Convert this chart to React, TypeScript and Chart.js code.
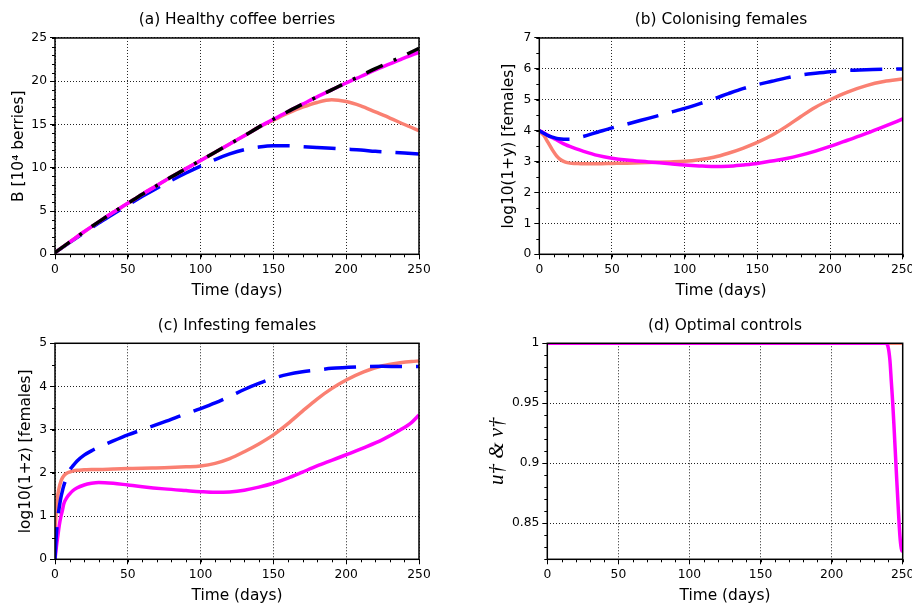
import React, { useEffect, useRef } from 'react';
import { Chart, registerables } from 'chart.js';

Chart.register(...registerables);

const FONT = "'DejaVu Sans', sans-serif";
const BLUE = '#0000ff';
const MAGENTA = '#ff00ff';
const SALMON = '#fa8072';
const BLACK = '#000000';

// ---- shared axis ticks ----
const xTicks = [0, 50, 100, 150, 200, 250];
const xMinorStep = 10;

// ---- (a) Healthy coffee berries ----
const yTicksA = [0, 5, 10, 15, 20, 25];
const daysA = [0, 10, 20, 30, 40, 50, 60, 70, 80, 90, 100, 110, 120, 130, 140, 150, 160, 170, 180, 190, 200, 210, 220, 230, 240, 250];
const blackA = [0.2, 1.4, 2.6, 3.75, 4.85, 5.9, 6.95, 7.95, 8.95, 9.9, 10.85, 11.8, 12.75, 13.7, 14.7, 15.6, 16.5, 17.35, 18.2, 19.0, 19.85, 20.65, 21.45, 22.2, 23.0, 23.8];
const magentaA = [0.2, 1.4, 2.6, 3.75, 4.85, 5.9, 6.95, 7.95, 8.95, 9.9, 10.85, 11.8, 12.75, 13.7, 14.7, 15.6, 16.5, 17.35, 18.2, 19.0, 19.8, 20.55, 21.3, 22.0, 22.7, 23.35];
const salmonA = [0.2, 1.4, 2.6, 3.75, 4.85, 5.9, 6.95, 7.95, 8.95, 9.9, 10.85, 11.8, 12.75, 13.7, 14.7, 15.5, 16.3, 17.0, 17.55, 17.85, 17.65, 17.15, 16.45, 15.75, 15.0, 14.3];
const blueA = [0.2, 1.35, 2.5, 3.6, 4.65, 5.7, 6.7, 7.65, 8.55, 9.4, 10.2, 10.95, 11.6, 12.1, 12.4, 12.55, 12.55, 12.45, 12.35, 12.25, 12.15, 12.05, 11.9, 11.8, 11.7, 11.6];

// ---- (b) Colonising females ----
const yTicksB = [0, 1, 2, 3, 4, 5, 6, 7];
const daysB = [0, 3, 6, 9, 12, 15, 18, 21, 25, 30, 40, 50, 60, 75, 90, 100, 110, 120, 130, 140, 150, 160, 170, 180, 190, 200, 212, 225, 237, 250];
const blueB = [4.0, 3.92, 3.84, 3.79, 3.75, 3.73, 3.72, 3.72, 3.75, 3.81, 3.95, 4.09, 4.21, 4.4, 4.59, 4.72, 4.87, 5.03, 5.2, 5.36, 5.49, 5.6, 5.71, 5.8, 5.86, 5.91, 5.95, 5.97, 5.99, 6.0];
const salmonB = [4.0, 3.85, 3.62, 3.38, 3.18, 3.05, 2.98, 2.95, 2.94, 2.93, 2.93, 2.94, 2.95, 2.97, 2.99, 3.01, 3.06, 3.14, 3.27, 3.43, 3.62, 3.85, 4.14, 4.46, 4.76, 5.0, 5.25, 5.46, 5.59, 5.67];
const magentaB = [4.0, 3.93, 3.85, 3.77, 3.7, 3.62, 3.55, 3.49, 3.42, 3.34, 3.2, 3.11, 3.05, 2.99, 2.93, 2.89, 2.86, 2.84, 2.85, 2.89, 2.94, 3.02, 3.1, 3.21, 3.34, 3.49, 3.69, 3.91, 4.13, 4.38];

// ---- (c) Infesting females ----
const yTicksC = [0, 1, 2, 3, 4, 5];
const daysC = [0, 0.5, 1, 2, 3, 4, 5, 6, 8, 10, 12, 15, 20, 25, 30, 40, 50, 60, 75, 90, 100, 110, 120, 130, 140, 150, 160, 170, 180, 190, 200, 212, 225, 237, 245, 250];
const blueC = [0, 0.35, 0.6, 0.98, 1.22, 1.42, 1.57, 1.7, 1.9, 2.06, 2.15, 2.27, 2.41, 2.51, 2.59, 2.74, 2.88, 3.0, 3.18, 3.37, 3.49, 3.62, 3.77, 3.93, 4.07, 4.19, 4.28, 4.34, 4.38, 4.42, 4.44, 4.46, 4.47, 4.46, 4.46, 4.46];
const salmonC = [0.65, 0.95, 1.2, 1.5, 1.68, 1.8, 1.88, 1.93, 1.99, 2.02, 2.04, 2.06, 2.07, 2.08, 2.08, 2.09, 2.1, 2.11, 2.12, 2.14, 2.16, 2.22, 2.33, 2.49, 2.67, 2.88, 3.14, 3.43, 3.71, 3.95, 4.15, 4.34, 4.48, 4.55, 4.58, 4.59];
const magentaC = [0, 0.15, 0.3, 0.55, 0.8, 0.98, 1.12, 1.28, 1.42, 1.51, 1.58, 1.65, 1.72, 1.76, 1.78, 1.76, 1.72, 1.68, 1.63, 1.59, 1.565, 1.55, 1.56, 1.6, 1.67, 1.76, 1.88, 2.02, 2.16, 2.29, 2.42, 2.58, 2.77, 2.99, 3.17, 3.34];

// ---- (d) Optimal controls ----
const yTicksD = [0.85, 0.9, 0.95, 1];
const daysD = [0, 238, 239.5, 241, 242, 243, 244, 245, 246, 247, 248, 249, 250];
const magentaD = [1, 1, 0.998, 0.986, 0.968, 0.95, 0.928, 0.905, 0.882, 0.86, 0.84, 0.829, 0.826];
const daysDSalmon = [0, 250];
const salmonD = [1, 1];

type Series = { t: number[]; v: number[]; color: string; dash?: number[] };
type PanelSpec = {
  left: number; top: number; w: number; h: number;
  title: string; titleTop: number; titleBottom: number;
  padRight: number; yAxisW: number; xAxisH: number; xTitlePad: number;
  yTitle: string; yTitlePad: number; yTitleFont: any;
  yMin: number; yMax: number; yTicks: number[]; yMinorStep: number;
  series: Series[];
};

function minorValues(min: number, max: number, step: number): number[] {
  const out: number[] = [];
  const k0 = Math.ceil(min / step - 1e-9);
  const k1 = Math.floor(max / step + 1e-9);
  for (let k = k0; k <= k1; k++) out.push(k * step);
  return out;
}

const framePlugin = {
  id: 'frame',
  afterDraw(chart: any, _args: any, opts: any) {
    const { ctx, chartArea, scales } = chart;
    const { left, right, top, bottom } = chartArea;
    ctx.save();
    ctx.strokeStyle = '#000';
    ctx.lineWidth = 1;
    ctx.beginPath();
    for (const v of opts.xMinor || []) {
      const px = Math.round(scales.x.getPixelForValue(v)) + 0.5;
      ctx.moveTo(px, bottom);
      ctx.lineTo(px, bottom + 3);
    }
    for (const v of opts.yMinor || []) {
      const py = Math.round(scales.y.getPixelForValue(v)) + 0.5;
      ctx.moveTo(left - 3, py);
      ctx.lineTo(left, py);
    }
    ctx.stroke();
    ctx.lineWidth = 1.5;
    ctx.strokeRect(left, top, right - left, bottom - top);
    ctx.restore();
  },
};

function makeConfig(p: PanelSpec): any {
  const tickFont = { family: FONT, size: 12.3 };
  const titleFont = { family: FONT, size: 15.4, weight: 'normal' as const };
  const grid = {
    color: '#222',
    lineWidth: 1,
    drawTicks: true,
    tickLength: 5,
    tickColor: '#000',
    tickWidth: 1,
  };
  return {
    type: 'line',
    data: {
      datasets: p.series.map((s) => ({
        data: s.t.map((t, i) => ({ x: t, y: s.v[i] })),
        borderColor: s.color,
        backgroundColor: s.color,
        borderWidth: 3.5,
        borderDash: s.dash || [],
        pointRadius: 0,
        pointHoverRadius: 0,
        fill: false,
        cubicInterpolationMode: 'monotone',
        clip: 0,
      })),
    },
    options: {
      responsive: false,
      maintainAspectRatio: false,
      animation: false,
      devicePixelRatio: 1,
      events: [],
      layout: { padding: { left: 0, right: p.padRight, top: 0, bottom: 0 } },
      plugins: {
        legend: { display: false },
        tooltip: { enabled: false },
        title: {
          display: true,
          text: p.title,
          fullSize: false,
          color: '#000',
          font: titleFont,
          padding: { top: p.titleTop, bottom: p.titleBottom },
        },
        frame: {
          xMinor: minorValues(0, 250, xMinorStep),
          yMinor: minorValues(p.yMin, p.yMax, p.yMinorStep),
        },
      },
      scales: {
        x: {
          type: 'linear',
          min: 0,
          max: 250,
          afterBuildTicks: (s: any) => {
            s.ticks = xTicks.map((v) => ({ value: v }));
          },
          afterFit: (s: any) => {
            s.height = p.xAxisH;
            s.paddingLeft = 0;
            s.paddingRight = 0;
            s.paddingTop = 0;
            s.paddingBottom = 0;
          },
          ticks: {
            color: '#000',
            font: tickFont,
            autoSkip: false,
            maxRotation: 0,
            minRotation: 0,
            padding: 3,
            callback: (v: any) => String(v),
          },
          grid,
          border: { display: false, dash: [1, 2] },
          title: {
            display: true,
            text: 'Time (days)',
            color: '#000',
            font: titleFont,
            padding: { top: 0, bottom: p.xTitlePad },
          },
        },
        y: {
          type: 'linear',
          min: p.yMin,
          max: p.yMax,
          afterBuildTicks: (s: any) => {
            s.ticks = p.yTicks.map((v) => ({ value: v }));
          },
          afterFit: (s: any) => {
            s.width = p.yAxisW;
            s.paddingLeft = 0;
            s.paddingRight = 0;
            s.paddingTop = 0;
            s.paddingBottom = 0;
          },
          ticks: {
            color: '#000',
            font: tickFont,
            autoSkip: false,
            padding: 3,
            callback: (v: any) => String(v),
          },
          grid,
          border: { display: false, dash: [1, 2] },
          title: {
            display: true,
            text: p.yTitle,
            color: '#000',
            font: p.yTitleFont,
            padding: { top: p.yTitlePad, bottom: 0 },
          },
        },
      },
    },
    plugins: [framePlugin],
  };
}

const BLUE_DASH = [32, 14];
const BLACK_DASHDOT = [18, 12, 3, 12];

const panels: PanelSpec[] = [
  {
    left: 0, top: 0, w: 456, h: 300,
    title: '(a) Healthy coffee berries', titleTop: 10.6, titleBottom: 8.9,
    padRight: 37, yAxisW: 55, xAxisH: 45.7, xTitlePad: 0,
    yTitle: 'B [10⁴ berries]', yTitlePad: 9.7, yTitleFont: { family: FONT, size: 15.4 },
    yMin: 0, yMax: 25, yTicks: yTicksA, yMinorStep: 1,
    series: [
      { t: daysA, v: blackA, color: BLACK, dash: BLACK_DASHDOT },
      { t: daysA, v: magentaA, color: MAGENTA },
      { t: daysA, v: salmonA, color: SALMON },
      { t: daysA, v: blueA, color: BLUE, dash: BLUE_DASH },
    ],
  },
  {
    left: 456, top: 0, w: 456, h: 300,
    title: '(b) Colonising females', titleTop: 10.6, titleBottom: 8.9,
    padRight: 9.3, yAxisW: 83.3, xAxisH: 45.7, xTitlePad: 0,
    yTitle: 'log10(1+y) [females]', yTitlePad: 43.7, yTitleFont: { family: FONT, size: 15.4 },
    yMin: 0, yMax: 7, yTicks: yTicksB, yMinorStep: 0.5,
    series: [
      { t: daysB, v: blueB, color: BLUE, dash: BLUE_DASH },
      { t: daysB, v: magentaB, color: MAGENTA },
      { t: daysB, v: salmonB, color: SALMON },
    ],
  },
  {
    left: 0, top: 300, w: 456, h: 307,
    title: '(c) Infesting females', titleTop: 16.6, titleBottom: 8.2,
    padRight: 37, yAxisW: 55, xAxisH: 47.7, xTitlePad: 1.4,
    yTitle: 'log10(1+z) [females]', yTitlePad: 17, yTitleFont: { family: FONT, size: 15.4 },
    yMin: 0, yMax: 5, yTicks: yTicksC, yMinorStep: 0.5,
    series: [
      { t: daysC, v: blueC, color: BLUE, dash: BLUE_DASH },
      { t: daysC, v: magentaC, color: MAGENTA },
      { t: daysC, v: salmonC, color: SALMON },
    ],
  },
  {
    left: 456, top: 300, w: 456, h: 307,
    title: '(d) Optimal controls', titleTop: 16.6, titleBottom: 8.2,
    padRight: 9.3, yAxisW: 91.3, xAxisH: 47.7, xTitlePad: 1.4,
    yTitle: 'u† & v†', yTitlePad: 28.4,
    yTitleFont: { family: "'Liberation Serif', serif", size: 21, style: 'italic' },
    yMin: 0.82, yMax: 1, yTicks: yTicksD, yMinorStep: 0.01,
    series: [
      { t: daysD, v: magentaD, color: MAGENTA },
      { t: daysDSalmon, v: salmonD, color: SALMON },
    ],
  },
];

function Panel({ spec }: { spec: PanelSpec }) {
  const ref = useRef<HTMLCanvasElement | null>(null);
  useEffect(() => {
    if (!ref.current) return;
    const chart = new Chart(ref.current, makeConfig(spec));
    return () => chart.destroy();
  }, [spec]);
  return (
    <canvas
      ref={ref}
      width={spec.w}
      height={spec.h}
      style={{ position: 'absolute', left: spec.left, top: spec.top, width: spec.w, height: spec.h }}
    />
  );
}

export default function App() {
  return (
    <div style={{ position: 'absolute', left: 0, top: 0, width: 912, height: 607, background: '#fff', overflow: 'hidden' }}>
      {panels.map((p, i) => (
        <Panel key={i} spec={p} />
      ))}
    </div>
  );
}
